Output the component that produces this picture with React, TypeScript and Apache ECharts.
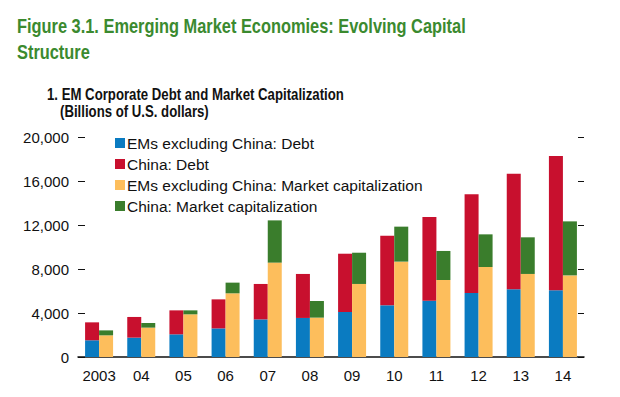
import React, { useEffect, useRef } from "react";
import * as echarts from "echarts";

const years = ["2003", "04", "05", "06", "07", "08", "09", "10", "11", "12", "13", "14"];
const emDebt = [1520, 1760, 2060, 2600, 3420, 3550, 4090, 4700, 5120, 5820, 6150, 6060];
const chinaDebt = [1630, 1880, 2180, 2640, 3220, 4000, 5300, 6330, 7610, 8970, 10520, 12210];
const emMktCap = [1970, 2670, 3880, 5790, 8580, 3580, 6640, 8670, 7000, 8180, 7550, 7420];
const chinaMktCap = [450, 420, 360, 970, 3840, 1510, 2840, 3180, 2640, 2970, 3330, 4910];

const seriesNames = [
  "EMs excluding China: Debt",
  "China: Debt",
  "EMs excluding China: Market capitalization",
  "China: Market capitalization",
];
const colors = ["#0A7BC1", "#C8102E", "#FDBE5C", "#3A7D2C"];

const sans = "'Liberation Sans', Arial, Helvetica, sans-serif";
const titleLines = ["Figure 3.1. Emerging Market Economies: Evolving Capital", "Structure"];
const subtitleLines = ["1. EM Corporate Debt and Market Capitalization", "(Billions of U.S. dollars)"];

export default function App() {
  const ref = useRef<HTMLDivElement>(null);
  useEffect(() => {
    if (!ref.current) return;
    const chart = echarts.init(ref.current, null, { renderer: "svg" });
    const mk = (i: number, data: number[], stack: string) => ({
      name: seriesNames[i],
      type: "bar",
      stack,
      data,
      barWidth: 14,
      barGap: "0%",
      itemStyle: { color: colors[i] },
    });
    const txt = (text: string, x: number, y: number, size: number, color: string, sx: number) => ({
      type: "text",
      x,
      y,
      scaleX: sx,
      style: { text, font: `bold ${size}px ${sans}`, fill: color, verticalAlign: "top", align: "left" },
    });
    chart.setOption({
      animation: false,
      backgroundColor: "#ffffff",
      graphic: [
        txt(titleLines[0], 17, 16, 20, "#3B8A2F", 0.82),
        txt(titleLines[1], 17, 42, 20, "#3B8A2F", 0.82),
        txt(subtitleLines[0], 47, 87, 16, "#111111", 0.825),
        txt(subtitleLines[1], 60, 104, 16, "#111111", 0.825),
      ],
      legend: {
        orient: "vertical",
        left: 115,
        top: 135,
        padding: 0,
        itemWidth: 10,
        itemHeight: 10,
        itemGap: 5,
        icon: "rect",
        data: seriesNames,
        textStyle: { fontFamily: sans, fontSize: 15.5, color: "#111", padding: [0, 0, 0, -3] },
      },
      grid: { left: 78, right: 36, top: 137, bottom: 40, containLabel: false },
      xAxis: {
        type: "category",
        data: years,
        boundaryGap: true,
        axisLine: { lineStyle: { color: "#111", width: 1.5 } },
        axisTick: { inside: true, length: 6, lineStyle: { color: "#111" } },
        axisLabel: { fontFamily: sans, fontSize: 15, color: "#111", margin: 11, interval: 0 },
      },
      yAxis: [
        {
          type: "value",
          min: 0,
          max: 20000,
          interval: 4000,
          position: "left",
          axisLine: { show: false },
          axisTick: { show: true, inside: true, length: 7, lineStyle: { color: "#111" } },
          splitLine: { show: false },
          axisLabel: {
            fontFamily: sans,
            fontSize: 15,
            color: "#111",
            margin: 9,
            formatter: (v: number) => v.toLocaleString("en-US"),
          },
        },
        {
          type: "value",
          min: 0,
          max: 20000,
          interval: 4000,
          position: "right",
          axisLine: { show: false },
          axisTick: { show: true, inside: true, length: 6, lineStyle: { color: "#111" } },
          splitLine: { show: false },
          axisLabel: { show: false },
        },
      ],
      series: [
        mk(0, emDebt, "debt"),
        mk(1, chinaDebt, "debt"),
        mk(2, emMktCap, "mkt"),
        mk(3, chinaMktCap, "mkt"),
      ],
    });
    return () => chart.dispose();
  }, []);
  return (
    <div
      ref={ref}
      style={{ position: "fixed", left: 0, top: 0, width: 620, height: 397, background: "#fff" }}
    />
  );
}
